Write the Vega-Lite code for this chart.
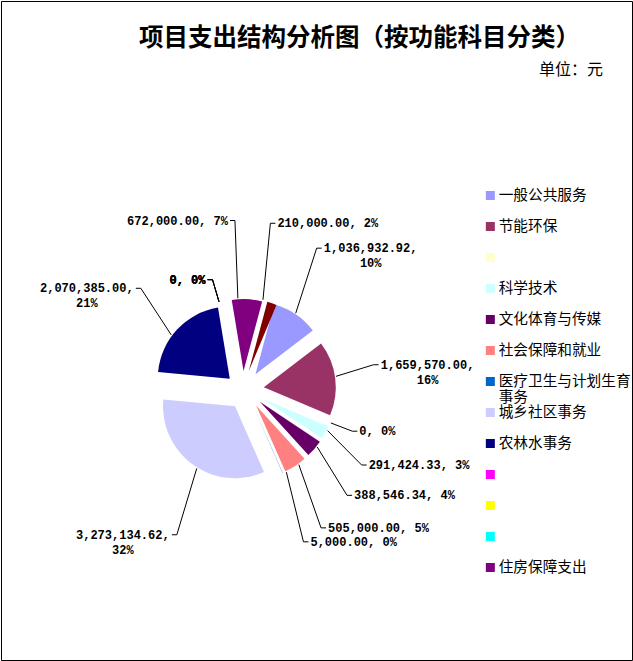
{
  "$schema": "https://vega.github.io/schema/vega-lite/v6.json",
  "padding": 0,
  "background": "white",
  "title": {
    "text": "项目支出结构分析图（按功能科目分类）",
    "font": "Noto Sans CJK SC",
    "fontSize": 24.5,
    "fontWeight": "bold",
    "color": "black",
    "anchor": "middle",
    "frame": "bounds",
    "baseline": "middle",
    "offset": -62.5,
    "dx": 43
  },
  "vconcat": [
    {
      "width": 631,
      "height": 659,
      "title": {
        "text": "单位：元",
        "font": "Noto Sans CJK SC",
        "fontSize": 16,
        "fontWeight": "normal",
        "color": "black",
        "anchor": "end",
        "frame": "group",
        "baseline": "middle",
        "offset": -84.5,
        "dx": -29
      },
      "data": {
        "values": [
          {"idx": 1, "cat": "一般公共服务", "value": 1036932.92, "label": "1,036,932.92,\n10%"},
          {"idx": 2, "cat": "节能环保", "value": 1659570, "label": "1,659,570.00,\n16%"},
          {"idx": 3, "cat": " ", "value": 0, "label": "0,  0%"},
          {"idx": 4, "cat": "科学技术", "value": 291424.33, "label": "291,424.33,  3%"},
          {"idx": 5, "cat": "文化体育与传媒", "value": 388546.34, "label": "388,546.34,  4%"},
          {"idx": 6, "cat": "社会保障和就业", "value": 505000, "label": "505,000.00,  5%"},
          {"idx": 7, "cat": "医疗卫生与计划生育事务", "value": 5000, "label": "5,000.00,  0%"},
          {"idx": 8, "cat": "城乡社区事务", "value": 3273134.62, "label": "3,273,134.62,\n32%"},
          {"idx": 9, "cat": "农林水事务", "value": 2070385, "label": "2,070,385.00,\n21%"},
          {"idx": 10, "cat": "  ", "value": 0, "label": "0,  0%"},
          {"idx": 11, "cat": "   ", "value": 0, "label": "0,  0%"},
          {"idx": 12, "cat": "    ", "value": 0, "label": "0,  0%"},
          {"idx": 13, "cat": "住房保障支出", "value": 672000, "label": "672,000.00,  7%"},
          {"idx": 14, "cat": "其他", "value": 210000, "label": "210,000.00,  2%"}
        ]
      },
      "transform": [
        {"joinaggregate": [{"op": "sum", "field": "value", "as": "total"}]},
        {"stack": "value", "groupby": [], "sort": [{"field": "idx", "order": "ascending"}], "as": ["v0", "v1"]}
      ],
      "layer": [
        {
          "mark": {
            "type": "arc",
            "radius": 72,
            "strokeWidth": 0,
            "x": {"expr": "244 + 19*sin(0.2618 + PI*(datum.v0+datum.v1)/datum.total)"},
            "y": {"expr": "389 - 19*cos(0.2618 + PI*(datum.v0+datum.v1)/datum.total)"}
          },
          "encoding": {
            "theta": {"field": "v0", "type": "quantitative", "scale": {"range": [0.2618, 6.545], "nice": false, "zero": true}},
            "theta2": {"field": "v1"},
            "fill": {
              "field": "cat",
              "type": "nominal",
              "scale": {
                "domain": ["一般公共服务", "节能环保", " ", "科学技术", "文化体育与传媒", "社会保障和就业", "医疗卫生与计划生育事务", "城乡社区事务", "农林水事务", "  ", "   ", "    ", "住房保障支出", "其他"],
                "range": ["#9999FF", "#993366", "#FFFFCC", "#CCFFFF", "#660066", "#FF8080", "#0066CC", "#CCCCFF", "#000080", "#FF00FF", "#FFFF00", "#00FFFF", "#800080", "#800000"]
              },
              "legend": {
                "orient": "none",
                "legendX": 482,
                "legendY": 179,
                "title": null,
                "padding": 0,
                "values": ["一般公共服务", "节能环保", " ", "科学技术", "文化体育与传媒", "社会保障和就业", "医疗卫生与计划生育事务"],
                "symbolType": "square",
                "symbolSize": 81,
                "symbolStrokeWidth": 0,
                "labelFont": "Noto Sans CJK SC",
                "labelFontSize": 14.67,
                "labelColor": "black",
                "labelOffset": 1,
                "labelLimit": 300,
                "rowPadding": 0,
                "clipHeight": 31,
                "labelExpr": "datum.label == '医疗卫生与计划生育事务' ? ['医疗卫生与计划生育', '事务'] : datum.label"
              }
            },
            "stroke": {
              "field": "cat",
              "type": "nominal",
              "scale": {
                "domain": ["城乡社区事务", "农林水事务", "  ", "   ", "    ", "住房保障支出"],
                "range": ["#CCCCFF", "#000080", "#FF00FF", "#FFFF00", "#00FFFF", "#800080"]
              },
              "legend": {
                "orient": "none",
                "legendX": 482,
                "legendY": 396,
                "title": null,
                "padding": 0,
                "symbolType": "square",
                "symbolSize": 1,
                "symbolStrokeWidth": 8,
                "labelFont": "Noto Sans CJK SC",
                "labelFontSize": 14.67,
                "labelColor": "black",
                "labelOffset": 1,
                "labelLimit": 300,
                "rowPadding": 0,
                "clipHeight": 31
              }
            }
          }
        },
        {
          "mark": {"type": "rule", "color": "black", "strokeWidth": 1},
          "encoding": {
            "x": {"value": {"expr": "244 + 92*sin(0.2618 + PI*(datum.v0+datum.v1)/datum.total)"}},
            "y": {"value": {"expr": "389 - 92*cos(0.2618 + PI*(datum.v0+datum.v1)/datum.total)"}},
            "x2": {"value": {"expr": "244 + (datum.value == 0 ? 115 : 130)*sin(0.2618 + PI*(datum.v0+datum.v1)/datum.total)"}},
            "y2": {"value": {"expr": "389 - (datum.value == 0 ? 115 : 170)*cos(0.2618 + PI*(datum.v0+datum.v1)/datum.total)"}}
          }
        },
        {
          "mark": {"type": "rule", "color": "black", "strokeWidth": 1},
          "encoding": {
            "x": {"value": {"expr": "244 + (datum.value == 0 ? 115 : 130)*sin(0.2618 + PI*(datum.v0+datum.v1)/datum.total)"}},
            "x2": {"value": {"expr": "244 + (datum.value == 0 ? 115 : 130)*sin(0.2618 + PI*(datum.v0+datum.v1)/datum.total) + (sin(0.2618 + PI*(datum.v0+datum.v1)/datum.total) >= 0 ? 5 : -5)"}},
            "y": {"value": {"expr": "389 - (datum.value == 0 ? 115 : 170)*cos(0.2618 + PI*(datum.v0+datum.v1)/datum.total)"}}
          }
        },
        {
          "mark": {
            "type": "text",
            "font": "Liberation Mono",
            "fontSize": 12,
            "fontWeight": "bold",
            "color": "black",
            "lineBreak": "\n",
            "lineHeight": 15,
            "baseline": "middle",
            "align": {"expr": "indexof(datum.label, '\\n') >= 0 ? 'center' : (sin(0.2618 + PI*(datum.v0+datum.v1)/datum.total) >= 0 ? 'left' : 'right')"},
            "x": {"expr": "244 + (datum.value == 0 ? 115 : 130)*sin(0.2618 + PI*(datum.v0+datum.v1)/datum.total) + (sin(0.2618 + PI*(datum.v0+datum.v1)/datum.total) >= 0 ? 1 : -1)*(indexof(datum.label, '\\n') >= 0 ? 54 : 7)"},
            "y": {"expr": "389 - (datum.value == 0 ? 115 : 170)*cos(0.2618 + PI*(datum.v0+datum.v1)/datum.total)"}
          },
          "encoding": {
            "text": {"field": "label", "type": "nominal"}
          }
        }
      ]
    }
  ],
  "config": {
    "view": {"stroke": "black", "strokeWidth": 1, "fill": "white"}
  }
}
